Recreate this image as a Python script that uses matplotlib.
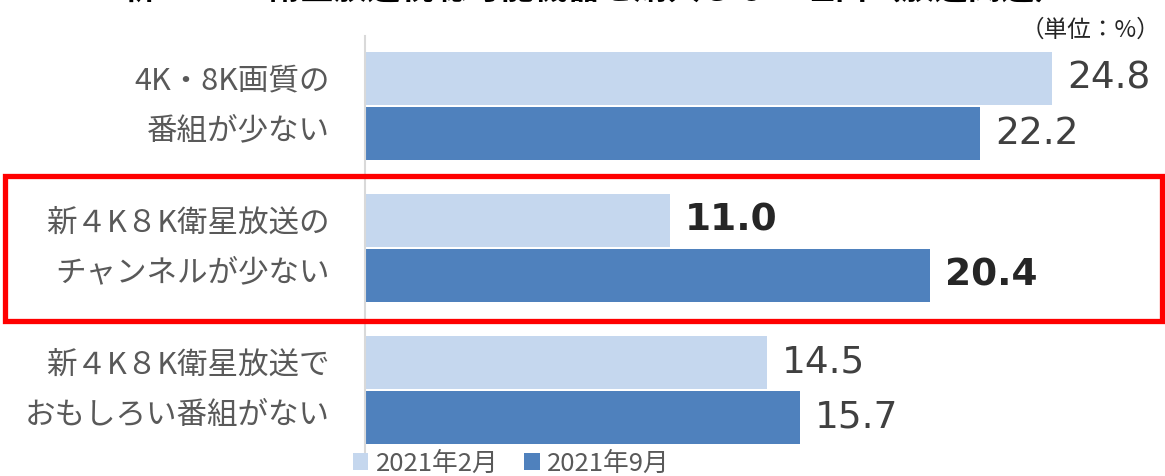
import matplotlib.pyplot as plt
from matplotlib.patches import Rectangle

plt.rcParams['font.family'] = ['Noto Sans CJK JP', 'DejaVu Sans']

categories = ['4K・8K画質の\n番組が少ない',
              '新４K８K衛星放送の\nチャンネルが少ない',
              '新４K８K衛星放送で\nおもしろい番組がない']
series_names = ['2021年2月', '2021年9月']
feb_2021 = [24.8, 11.0, 14.5]
sep_2021 = [22.2, 20.4, 15.7]
highlight = 1

W, H = 1165, 476
fig = plt.figure(figsize=(W / 100, H / 100), dpi=100)

# axes in pixel terms: left edge x=365, top y=36, bottom y=455
ax = fig.add_axes([365 / W, 21 / H, 800 / W, 419 / H])
ax.set_xlim(0, 28.88)
ax.set_ylim(2.458, -0.493)

light = '#c5d7ee'
dark = '#4f81bd'
h = 0.37
off = 0.195
ys = list(range(len(categories)))
ax.barh([y - off for y in ys], feb_2021, height=h, color=light, label=series_names[0])
ax.barh([y + off for y in ys], sep_2021, height=h, color=dark, label=series_names[1])

for i, y in enumerate(ys):
    bold = (i == highlight)
    for v, yy in ((feb_2021[i], y - off), (sep_2021[i], y + off)):
        ax.text(v + 0.55, yy, f'{v:.1f}', va='center', ha='left',
                fontsize=27, color='#262626' if bold else '#404040',
                fontweight='bold' if bold else 'normal', family='DejaVu Sans')

for s in ['top', 'right', 'bottom']:
    ax.spines[s].set_visible(False)
ax.spines['left'].set_color('#d9d9d9')
ax.spines['left'].set_linewidth(1.5)
ax.set_xticks([])
ax.set_yticks([])

# category labels
for i, y in enumerate(ys):
    py = ax.transData.transform((0, y))[1]
    fig.text(330 / W, py / H, categories[i], ha='right', va='center',
             fontsize=22, color='#595959', linespacing=1.8)

# highlight box
fig.add_artist(Rectangle((5 / W, (H - 321) / H), 1157 / W, 145 / H,
                         transform=fig.transFigure, fill=False,
                         edgecolor='#ff0000', linewidth=3.8))

# cut-off title and unit
fig.text(595 / W, (H + 11) / H, '新４K８K衛星放送視聴可能機器を購入しない理由（放送関連）',
         ha='center', va='center', fontsize=24, fontweight='bold', color='black')
fig.text(1160 / W, (H - 30) / H, '（単位：%）', ha='right', va='center',
         fontsize=17, color='#262626')

ax.legend(loc='upper left', bbox_to_anchor=(350 / W, 28 / H), bbox_transform=fig.transFigure,
          ncol=2, frameon=False, fontsize=18.5, handlelength=0.6, handleheight=0.6,
          handletextpad=0.3, columnspacing=1.0, labelcolor='#595959', borderaxespad=0,
          borderpad=0.1)

fig.savefig('out.png', dpi=100)
